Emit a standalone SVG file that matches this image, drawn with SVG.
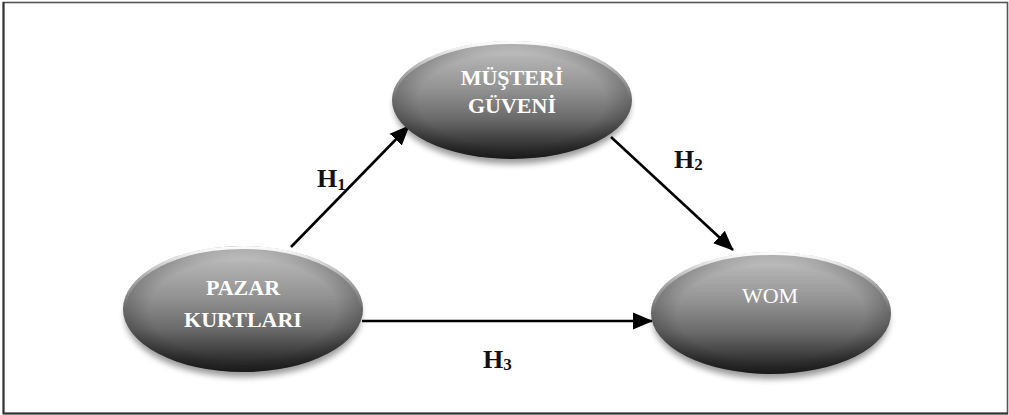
<svg xmlns="http://www.w3.org/2000/svg" width="1009" height="415" viewBox="0 0 1009 415">
<style>
.node-fill{fill:url(#gBody);}
.node-edge{fill:url(#gEdge);}
.node-rim{fill:none;stroke:url(#gRim);stroke-width:3;}
.node-shadow{fill:#000;opacity:0.4;filter:url(#blur);}
.lbl{font-family:"Liberation Serif","DejaVu Serif",serif;font-size:22px;fill:#fff;text-anchor:middle;}
.b{font-weight:bold;}
.h{font-family:"Liberation Serif","DejaVu Serif",serif;font-weight:bold;font-size:26px;fill:#111;}
.hs{font-size:17px;}
.conn{stroke:#000;stroke-width:2.6;fill:none;marker-end:url(#arr);}
</style>
<defs>
<linearGradient id="gBody" x1="0" y1="0" x2="0" y2="1">
<stop offset="0" stop-color="#d8d8d8"/>
<stop offset="0.14" stop-color="#b2b2b2"/>
<stop offset="0.4" stop-color="#939393"/>
<stop offset="0.66" stop-color="#6a6a6a"/>
<stop offset="0.9" stop-color="#303030"/>
<stop offset="1" stop-color="#202020"/>
</linearGradient>
<radialGradient id="gEdge" cx="0.5" cy="0.5" r="0.5">
<stop offset="0.78" stop-color="#000" stop-opacity="0"/>
<stop offset="1" stop-color="#000" stop-opacity="0.22"/>
</radialGradient>
<linearGradient id="gRim" x1="0" y1="0" x2="0" y2="1">
<stop offset="0" stop-color="#fff" stop-opacity="0.95"/>
<stop offset="0.25" stop-color="#fff" stop-opacity="0.3"/>
<stop offset="0.5" stop-color="#fff" stop-opacity="0"/>
<stop offset="1" stop-color="#fff" stop-opacity="0"/>
</linearGradient>
<filter id="blur" x="-20%" y="-20%" width="140%" height="160%">
<feGaussianBlur stdDeviation="3"/>
</filter>
<marker id="arr" markerUnits="userSpaceOnUse" markerWidth="20" markerHeight="18" refX="19" refY="8.5" orient="auto" viewBox="0 0 20 17">
<path d="M0,0 L20,8.5 L0,17 z" fill="#000"/>
</marker>
</defs>
<rect x="3.5" y="2.5" width="1004" height="411" fill="#fff" stroke="#555" stroke-width="1.6"/>
<line x1="3.5" y1="2" x2="3.5" y2="414" stroke="#333" stroke-width="2"/>
<line x1="3" y1="413.5" x2="1008" y2="413.5" stroke="#333" stroke-width="2"/>

<g id="connectors">
<line class="conn" x1="291" y1="247" x2="409" y2="126"/>
<line class="conn" x1="611" y1="137" x2="733" y2="250"/>
<line class="conn" x1="362" y1="321" x2="652" y2="321"/>
</g>

<g id="n-musteri">
<ellipse class="node-shadow" cx="512" cy="106" rx="118" ry="58"/>
<ellipse class="node-fill" cx="512" cy="100" rx="120" ry="59"/>
<ellipse class="node-edge" cx="512" cy="100" rx="120" ry="59"/>
<ellipse class="node-rim" cx="512" cy="100" rx="118.5" ry="57.5"/>
<text class="lbl b" x="512" y="85">MÜŞTERİ</text>
<text class="lbl b" x="512" y="113">GÜVENİ</text>
</g>

<g id="n-pazar">
<ellipse class="node-shadow" cx="243" cy="316" rx="118" ry="61"/>
<ellipse class="node-fill" cx="243" cy="309" rx="120" ry="63"/>
<ellipse class="node-edge" cx="243" cy="309" rx="120" ry="63"/>
<ellipse class="node-rim" cx="243" cy="309" rx="118.5" ry="61.5"/>
<text class="lbl b" x="243" y="295">PAZAR</text>
<text class="lbl b" x="243" y="327">KURTLARI</text>
</g>

<g id="n-wom">
<ellipse class="node-shadow" cx="771" cy="320" rx="118" ry="59"/>
<ellipse class="node-fill" cx="771" cy="313" rx="120" ry="61"/>
<ellipse class="node-edge" cx="771" cy="313" rx="120" ry="61"/>
<ellipse class="node-rim" cx="771" cy="313" rx="118.5" ry="59.5"/>
<text class="lbl" x="770" y="303">WOM</text>
</g>

<g id="labels">
<text class="h" x="317" y="187">H<tspan class="hs" dy="3">1</tspan></text>
<text class="h" x="674" y="168">H<tspan class="hs" dy="2">2</tspan></text>
<text class="h" x="483" y="368">H<tspan class="hs" dy="2">3</tspan></text>
</g>
</svg>
